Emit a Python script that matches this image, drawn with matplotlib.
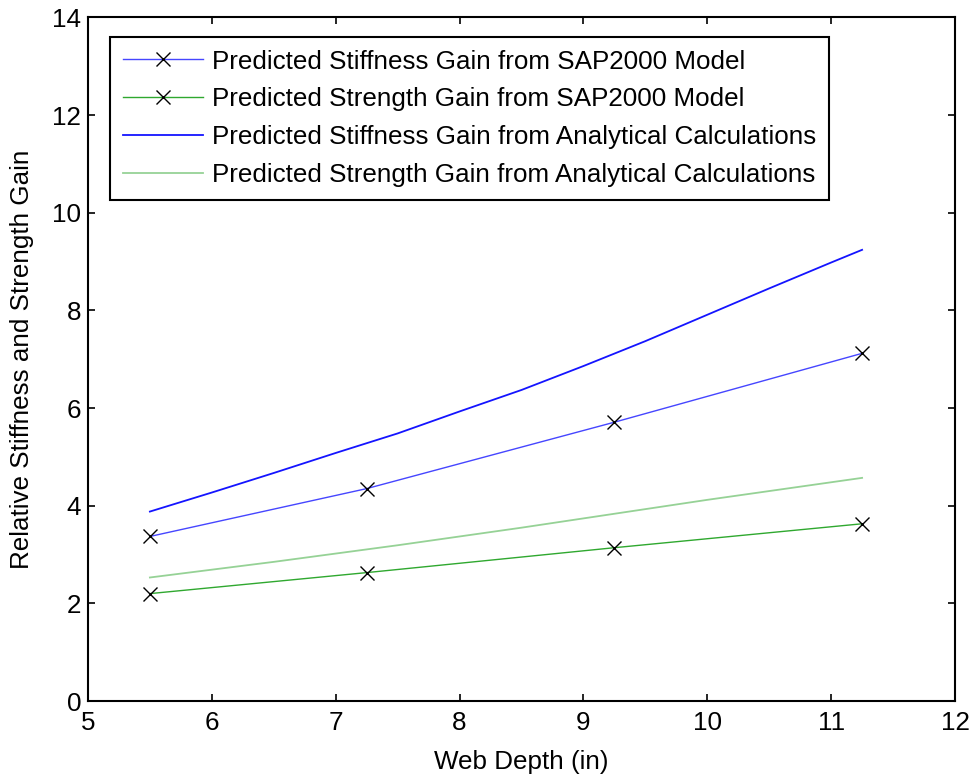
import matplotlib
matplotlib.use("Agg")
import numpy as np
import matplotlib.pyplot as plt

plt.rcParams['font.family'] = ['Liberation Sans', 'DejaVu Sans']

# SAP2000 model results at the four tested web depths
sap_depth = [5.5, 7.25, 9.25, 11.25]
sap_stiffness = [3.37, 4.35, 5.71, 7.12]
sap_strength = [2.20, 2.63, 3.14, 3.63]

# Analytical predictions across the web depth range
calc_depth = [5.5, 6.0, 6.5, 7.0, 7.5, 8.0, 8.5, 9.0, 9.5, 10.0, 10.5, 11.0, 11.25]
calc_stiffness = [3.88, 4.27, 4.67, 5.08, 5.48, 5.93, 6.37, 6.86, 7.37, 7.91, 8.45, 8.98, 9.24]
calc_strength = [2.53, 2.69, 2.85, 3.02, 3.19, 3.37, 3.55, 3.74, 3.93, 4.12, 4.30, 4.48, 4.57]

labels = ['Predicted Stiffness Gain from SAP2000 Model',
          'Predicted Strength Gain from SAP2000 Model',
          'Predicted Stiffness Gain from Analytical Calculations',
          'Predicted Strength Gain from Analytical Calculations']

fs = 18.7

fig = plt.figure(figsize=(9.72, 7.76), dpi=100)
ax = fig.add_axes([0.0905, 0.0966, 0.892, 0.881])

ax.plot(sap_depth, sap_stiffness, color='#4646ff', lw=1.0, marker='x',
        ms=10, mec='black', mew=1.0, label=labels[0])
ax.plot(sap_depth, sap_strength, color='#2fa82f', lw=1.0, marker='x',
        ms=10, mec='black', mew=1.0, label=labels[1])
ax.plot(calc_depth, calc_stiffness, color='#1414ff', lw=1.3, label=labels[2])
ax.plot(calc_depth, calc_strength, color='#96d296', lw=1.3, label=labels[3])

ax.set_xlim(5, 12)
ax.set_ylim(0, 14)
ax.set_xticks(np.arange(5, 13, 1))
ax.set_yticks(np.arange(0, 15, 2))

ax.tick_params(direction='in', length=5, width=1.2, top=True, right=True,
               labelsize=fs)
ax.tick_params(axis='x', pad=7)
ax.tick_params(axis='y', pad=5)
for sp in ax.spines.values():
    sp.set_linewidth(1.5)

ax.set_xlabel('Web Depth (in)', fontsize=fs, labelpad=11)
ax.set_ylabel('Relative Stiffness and Strength Gain', fontsize=fs, labelpad=13)

leg = ax.legend(loc='upper left', bbox_to_anchor=(0.025, 0.972), borderaxespad=0,
                fontsize=fs, frameon=True, fancybox=False, edgecolor='black',
                framealpha=1, handlelength=3.1, handletextpad=0.35,
                borderpad=0.5, labelspacing=0.53, numpoints=1)
leg.get_frame().set_linewidth(1.5)

fig.savefig('out.png', dpi=100)
